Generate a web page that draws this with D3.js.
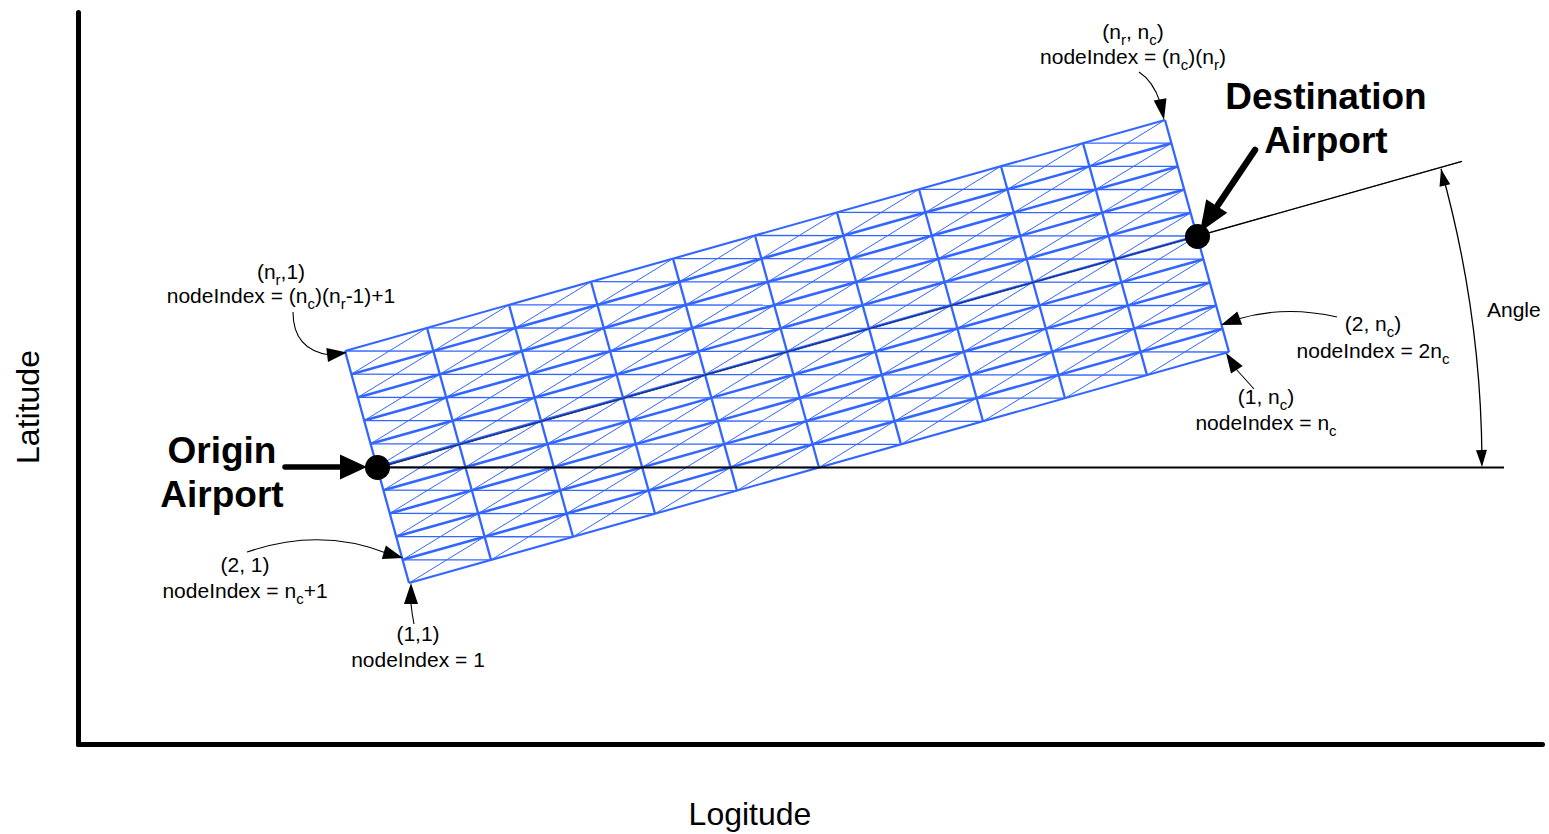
<!DOCTYPE html>
<html>
<head>
<meta charset="utf-8">
<script src="https://cdn.jsdelivr.net/npm/d3@7"></script>
<style>
    html, body { margin: 0; padding: 0; background: #fff; }
    svg { display: block; }
    text { font-family: "Liberation Sans", Arial, sans-serif; fill: #000; }
</style>
</head>
<body>
<script>
// node positions, in plot units (lon to the right, lat upwards)
var edgeLon = [331, 413, 495, 577, 659, 741, 823, 905, 987, 1069, 1151];
var edgeLat = [161, 184.1, 207.2, 230.3, 253.4, 276.5, 299.6, 322.7, 345.8, 368.9, 392];
var rowLon = [0, -6.4, -12.8, -19.2, -25.6, -32, -38.4, -44.8, -51.2, -57.6, -64];
var rowLat = [0, 23.2, 46.4, 69.6, 92.8, 116, 139.2, 162.4, 185.6, 208.8, 232];

// airports as [row, column] of the grid
var originNode = [5, 0];
var destinationNode = [5, 10];

var angleLineEndLon = 1384;
var baseLineEndLon = 1426;

var svg;
var xScale = d3.scaleLinear().domain([0, 1464]).range([78, 1542]);
var yScale = d3.scaleLinear().domain([0, 732]).range([744, 12]);

var BLUE = '#3366ff';

window.document.addEventListener('DOMContentLoaded', init, false);

function nodeX(r, c) { return xScale(edgeLon[c] + rowLon[r]); }
function nodeY(r, c) { return yScale(edgeLat[c] + rowLat[r]); }

function init() {
    svg = d3.select('body').append('svg')
        .attr('width', 1549)
        .attr('height', 834);

    drawAngleLine(1.3, 1);
    drawGrid();
    drawAngleLine(0.6, 0.7); // thin dark core showing through the blue
    drawBaseLine();
    drawAxes();
    drawAirports();
    drawNotes();
}

function gridLine(r1, c1, r2, c2, width) {
    svg.append('line')
        .attr('x1', nodeX(r1, c1))
        .attr('y1', nodeY(r1, c1))
        .attr('x2', nodeX(r2, c2))
        .attr('y2', nodeY(r2, c2))
        .attr('stroke', BLUE)
        .attr('stroke-width', width);
}

function drawGrid() {
    var rows = rowLon.length;
    var cols = edgeLon.length;
    var r, c;

    for (r = 0; r < rows - 1; r++) {
        for (c = 0; c < cols - 1; c++) {
            gridLine(r, c, r + 1, c + 1, 1);
            gridLine(r + 1, c, r, c + 1, 1.3);
        }
    }
    for (c = 0; c < cols; c++) {
        gridLine(0, c, rows - 1, c, 2.3);
    }
    for (r = 0; r < rows; r++) {
        var outer = r === 0 || r === rows - 1;
        gridLine(r, 0, r, cols - 1, outer ? 2.1 : 2.6);
    }
}

function drawAngleLine(width, shift) {
    var ox = nodeX(originNode[0], originNode[1]);
    var oy = nodeY(originNode[0], originNode[1]);
    var dx = nodeX(destinationNode[0], destinationNode[1]);
    var dy = nodeY(destinationNode[0], destinationNode[1]);
    var slope = (dy - oy) / (dx - ox);
    var endX = xScale(angleLineEndLon);

    svg.append('line')
        .attr('x1', ox).attr('y1', oy + shift)
        .attr('x2', endX).attr('y2', oy + slope * (endX - ox))
        .attr('stroke', '#000').attr('stroke-width', width);
}

function drawBaseLine() {
    var ox = nodeX(originNode[0], originNode[1]);
    var oy = nodeY(originNode[0], originNode[1]);

    svg.append('line')
        .attr('x1', ox).attr('y1', oy + 0.5)
        .attr('x2', xScale(baseLineEndLon)).attr('y2', oy + 0.5)
        .attr('stroke', '#000').attr('stroke-width', 2);

    // angle arc is centred on the origin airport
    var radius = 1105;
    var arc = d3.arc()
        .innerRadius(radius).outerRadius(radius)
        .startAngle(Math.PI / 2 - 0.2733).endAngle(Math.PI / 2 - 0.0085);
    svg.append('path')
        .attr('transform', 'translate(' + ox + ',' + oy + ')')
        .attr('d', arc())
        .attr('fill', 'none')
        .attr('stroke', '#000')
        .attr('stroke-width', 1.3);

    arrowHead(1441, 169, 1445, 186, 17, 11);
    arrowHead(1482, 467, 1481.5, 451, 17, 11);
}

function drawAxes() {
    var bottom = d3.axisBottom(xScale).tickValues([]).tickSizeOuter(0);
    var left = d3.axisLeft(yScale).tickValues([]).tickSizeOuter(0);

    svg.append('g').attr('transform', 'translate(0,744)').call(bottom);
    svg.append('g').attr('transform', 'translate(78,0)').call(left);

    svg.selectAll('.domain')
        .attr('stroke', '#000')
        .attr('stroke-width', 5)
        .attr('stroke-linecap', 'round');

    svg.append('text')
        .attr('x', 750).attr('y', 825)
        .attr('text-anchor', 'middle')
        .style('font-size', '32px')
        .text('Logitude');

    svg.append('text')
        .attr('transform', 'translate(39,407) rotate(-90)')
        .attr('text-anchor', 'middle')
        .style('font-size', '32px')
        .text('Latitude');
}

function arrowHead(tipX, tipY, baseX, baseY, length, width) {
    var ang = Math.atan2(tipY - baseY, tipX - baseX);
    var bx = tipX - Math.cos(ang) * length;
    var by = tipY - Math.sin(ang) * length;
    var nx = -Math.sin(ang) * width / 2;
    var ny = Math.cos(ang) * width / 2;
    svg.append('path')
        .attr('d', 'M' + tipX + ',' + tipY + 'L' + (bx + nx) + ',' + (by + ny) + 'L' + (bx - nx) + ',' + (by - ny) + 'Z')
        .attr('fill', '#000');
}

function drawAirports() {
    [originNode, destinationNode].forEach(function (n) {
        svg.append('circle')
            .attr('cx', nodeX(n[0], n[1]) + 0.5)
            .attr('cy', nodeY(n[0], n[1]) + 0.5)
            .attr('r', 12.5)
            .attr('fill', '#000');
    });

    // big arrows pointing at the airports
    svg.append('line')
        .attr('x1', 285).attr('y1', 467).attr('x2', 345).attr('y2', 467)
        .attr('stroke', '#000').attr('stroke-width', 5.5).attr('stroke-linecap', 'round');
    arrowHead(367, 467, 340, 467, 27, 25);

    svg.append('line')
        .attr('x1', 1255).attr('y1', 150).attr('x2', 1218).attr('y2', 205)
        .attr('stroke', '#000').attr('stroke-width', 6.5).attr('stroke-linecap', 'round');
    arrowHead(1200, 232, 1217, 205.5, 31, 25);

    boldLabel('Origin', 222, 463);
    boldLabel('Airport', 222, 507);
    boldLabel('Destination', 1326, 109);
    boldLabel('Airport', 1326, 153);
}

function boldLabel(str, x, y) {
    svg.append('text')
        .attr('x', x).attr('y', y)
        .attr('text-anchor', 'middle')
        .style('font-size', '37px')
        .style('font-weight', 'bold')
        .text(str);
}

// str may hold _x for a subscript letter
function noteText(str, x, y) {
    var t = svg.append('text')
        .attr('x', x).attr('y', y)
        .attr('text-anchor', 'middle')
        .style('font-size', '21px');

    var parts = str.split(/_(.)/);
    var wasSub = false;
    parts.forEach(function (part, i) {
        if (part === '') { return; }
        var sub = i % 2 === 1;
        var span = t.append('tspan').text(part);
        if (sub) {
            span.attr('dy', 6).style('font-size', '15px');
        } else if (wasSub) {
            span.attr('dy', -6);
        }
        wasSub = sub;
    });
}

function curve(points) {
    var p = d3.path();
    p.moveTo(points[0], points[1]);
    p.quadraticCurveTo(points[2], points[3], points[4], points[5]);
    svg.append('path')
        .attr('d', p.toString())
        .attr('fill', 'none')
        .attr('stroke', '#000')
        .attr('stroke-width', 1.1);
}

function drawNotes() {
    noteText('(n_r,1)', 281, 279);
    noteText('nodeIndex = (n_c)(n_r-1)+1', 281, 303);
    curve([293, 312, 293, 350, 330, 355]);
    arrowHead(347, 352.5, 327, 355, 20, 14);

    noteText('(n_r, n_c)', 1133, 39);
    noteText('nodeIndex = (n_c)(n_r)', 1133, 64);
    curve([1139, 72, 1153, 81, 1160, 102]);
    arrowHead(1164, 120, 1160, 99, 21, 13);

    noteText('(2, 1)', 245, 572);
    noteText('nodeIndex = n_c+1', 245, 598);
    curve([247, 552, 320, 527, 386, 553]);
    arrowHead(403, 558, 383, 552, 20, 14);

    noteText('(1,1)', 418, 641);
    noteText('nodeIndex = 1', 418, 667);
    curve([414, 624, 412, 614, 411, 604]);
    arrowHead(411, 583, 411, 605, 21, 14);

    noteText('(2, n_c)', 1373, 331);
    noteText('nodeIndex = 2n_c', 1373, 358);
    curve([1337, 317, 1285, 305, 1238, 319]);
    arrowHead(1221, 325, 1240, 318, 20, 14);

    noteText('(1, n_c)', 1266, 404);
    noteText('nodeIndex = n_c', 1266, 430);
    curve([1254, 389, 1245, 379, 1236, 369]);
    arrowHead(1226, 353, 1237, 370, 20, 14);

    svg.append('text')
        .attr('x', 1487).attr('y', 317)
        .style('font-size', '21px')
        .text('Angle');
}
</script>
</body>
</html>
